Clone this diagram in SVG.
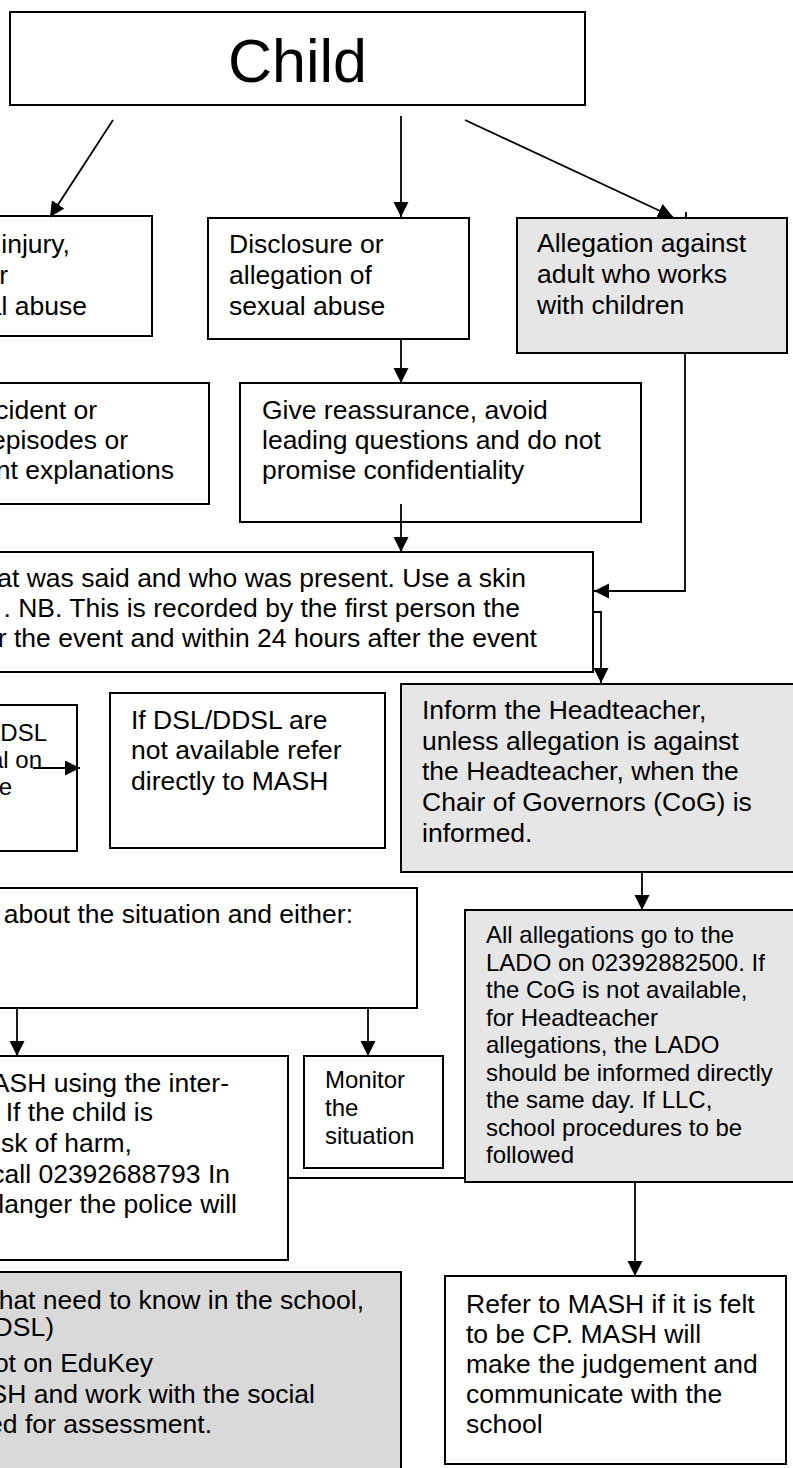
<svg xmlns="http://www.w3.org/2000/svg" width="793" height="1468" viewBox="0 0 793 1468">
<style>
.box{fill:#ffffff;stroke:#000;stroke-width:2}
.grey{fill:#e6e6e6;stroke:#000;stroke-width:2}
.grey2{fill:#d9d9d9;stroke:#000;stroke-width:2}
.t{font-family:"Liberation Sans",Arial,sans-serif;font-size:26.5px;fill:#000}
.s{font-family:"Liberation Sans",Arial,sans-serif;font-size:24px;fill:#000}
.e{text-anchor:end}
.c{fill:none;stroke:#000;stroke-width:1.8}
.a{marker-end:url(#arr)}
</style>
<defs>
<marker id="arr" markerUnits="userSpaceOnUse" markerWidth="16" markerHeight="16" refX="15" refY="7.5" orient="auto">
<path d="M0,0 L15,7.5 L0,15 Z" fill="#000"/>
</marker>
</defs>

<g id="child">
<rect class="box" x="10" y="12" width="575" height="93"/>
<text x="297.5" y="82" text-anchor="middle" style="font-family:'Liberation Sans',Arial,sans-serif;font-size:61px">Child</text>
</g>

<g id="physical">
<rect class="box" x="-20" y="216" width="172" height="120"/>
<text class="t e" x="70" y="253">injury,</text>
<text class="t e" x="8" y="284">r</text>
<text class="t e" x="87" y="315">al abuse</text>
</g>

<g id="disclosure">
<rect class="box" x="208" y="218" width="261" height="121"/>
<text class="t" x="229" y="253">Disclosure or</text>
<text class="t" x="229" y="284">allegation of</text>
<text class="t" x="229" y="315">sexual abuse</text>
</g>

<g id="allegation">
<rect class="grey" x="517" y="218" width="270" height="135"/>
<text class="t" x="537" y="252">Allegation against</text>
<text class="t" x="537" y="283">adult who works</text>
<text class="t" x="537" y="314">with children</text>
</g>

<g id="incident">
<rect class="box" x="-20" y="383" width="229" height="121"/>
<text class="t e" x="97" y="419">cident or</text>
<text class="t e" x="128" y="449">episodes or</text>
<text class="t e" x="174" y="479">nt explanations</text>
</g>

<g id="reassure">
<rect class="box" x="240" y="383" width="401" height="139"/>
<text class="t" x="262" y="419">Give reassurance, avoid</text>
<text class="t" x="262" y="449">leading questions and do not</text>
<text class="t" x="262" y="479">promise confidentiality</text>
</g>

<g id="record">
<rect class="box" x="-20" y="552" width="613" height="120"/>
<text class="t e" x="526" y="587">at was said and who was present. Use a skin</text>
<text class="t e" x="520" y="617">. NB. This is recorded by the first person the</text>
<text class="t e" x="537" y="647">r the event and within 24 hours after the event</text>
</g>

<g id="dsl">
<rect class="box" x="-20" y="705" width="97" height="146"/>
<text class="s e" x="47" y="741">DSL</text>
<text class="s e" x="42" y="768">al on</text>
<text class="s e" x="12" y="795">e</text>
</g>

<g id="nodsl">
<rect class="box" x="110" y="693" width="275" height="155"/>
<text class="t" x="131" y="729">If DSL/DDSL are</text>
<text class="t" x="131" y="759">not available refer</text>
<text class="t" x="131" y="790">directly to MASH</text>
</g>

<g id="inform">
<rect class="grey" x="401" y="684" width="420" height="188"/>
<text class="t" x="422" y="719">Inform the Headteacher,</text>
<text class="t" x="422" y="750">unless allegation is against</text>
<text class="t" x="422" y="780">the Headteacher, when the</text>
<text class="t" x="422" y="811">Chair of Governors (CoG) is</text>
<text class="t" x="422" y="842">informed.</text>
</g>

<g id="discuss">
<rect class="box" x="-20" y="888" width="437" height="120"/>
<text class="t e" x="353" y="923">about the situation and either:</text>
</g>

<g id="lado">
<rect class="grey" x="465" y="910" width="350" height="272"/>
<text class="s" x="486" y="943">All allegations go to the</text>
<text class="s" x="486" y="971">LADO on 02392882500. If</text>
<text class="s" x="486" y="998">the CoG is not available,</text>
<text class="s" x="486" y="1026">for Headteacher</text>
<text class="s" x="486" y="1053">allegations, the LADO</text>
<text class="s" x="486" y="1081">should be informed directly</text>
<text class="s" x="486" y="1108">the same day. If LLC,</text>
<text class="s" x="486" y="1136">school procedures to be</text>
<text class="s" x="486" y="1163">followed</text>
</g>

<g id="mash">
<rect class="box" x="-20" y="1056" width="308" height="204"/>
<text class="t e" x="229" y="1092">ASH using the inter-</text>
<text class="t e" x="153" y="1121">If the child is</text>
<text class="t e" x="132" y="1152">sk of harm,</text>
<text class="t e" x="230" y="1183">call 02392688793 In</text>
<text class="t e" x="237" y="1213">langer the police will</text>
</g>

<g id="monitor">
<rect class="box" x="304" y="1056" width="139" height="112"/>
<text class="s" x="325" y="1088">Monitor</text>
<text class="s" x="325" y="1116">the</text>
<text class="s" x="325" y="1144">situation</text>
</g>

<g id="share">
<rect class="grey2" x="-20" y="1272" width="421" height="220"/>
<text class="t e" x="364" y="1309">hat need to know in the school,</text>
<text class="t e" x="54" y="1336">DSL)</text>
<text class="t e" x="153" y="1372">ot on EduKey</text>
<text class="t e" x="315" y="1403">SH and work with the social</text>
<text class="t e" x="212" y="1433">ed for assessment.</text>
</g>

<g id="refer">
<rect class="box" x="445" y="1276" width="341" height="188"/>
<text class="t" x="466" y="1313">Refer to MASH if it is felt</text>
<text class="t" x="466" y="1343">to be CP. MASH will</text>
<text class="t" x="466" y="1373">make the judgement and</text>
<text class="t" x="466" y="1403">communicate with the</text>
<text class="t" x="466" y="1433">school</text>
</g>

<g id="connectors">
<line class="c a" x1="113" y1="120" x2="50" y2="217"/>
<line class="c a" x1="401" y1="116" x2="401" y2="217"/>
<line class="c a" x1="465" y1="120" x2="673" y2="217"/>
<line class="c" x1="686" y1="212" x2="686" y2="217"/>
<line class="c a" x1="401" y1="339" x2="401" y2="383"/>
<line class="c a" x1="401" y1="504" x2="401" y2="552"/>
<polyline class="c a" points="685,353 685,591 594,591"/>
<polyline class="c a" points="593,612 601,612 601,683"/>
<line class="c a" x1="33" y1="768" x2="80" y2="768"/>
<line class="c a" x1="642" y1="872" x2="642" y2="910"/>
<line class="c a" x1="17" y1="1008" x2="17" y2="1056"/>
<line class="c a" x1="368" y1="1008" x2="368" y2="1056"/>
<line class="c" x1="288" y1="1178" x2="465" y2="1178"/>
<line class="c a" x1="635" y1="1182" x2="635" y2="1276"/>
</g>
</svg>
